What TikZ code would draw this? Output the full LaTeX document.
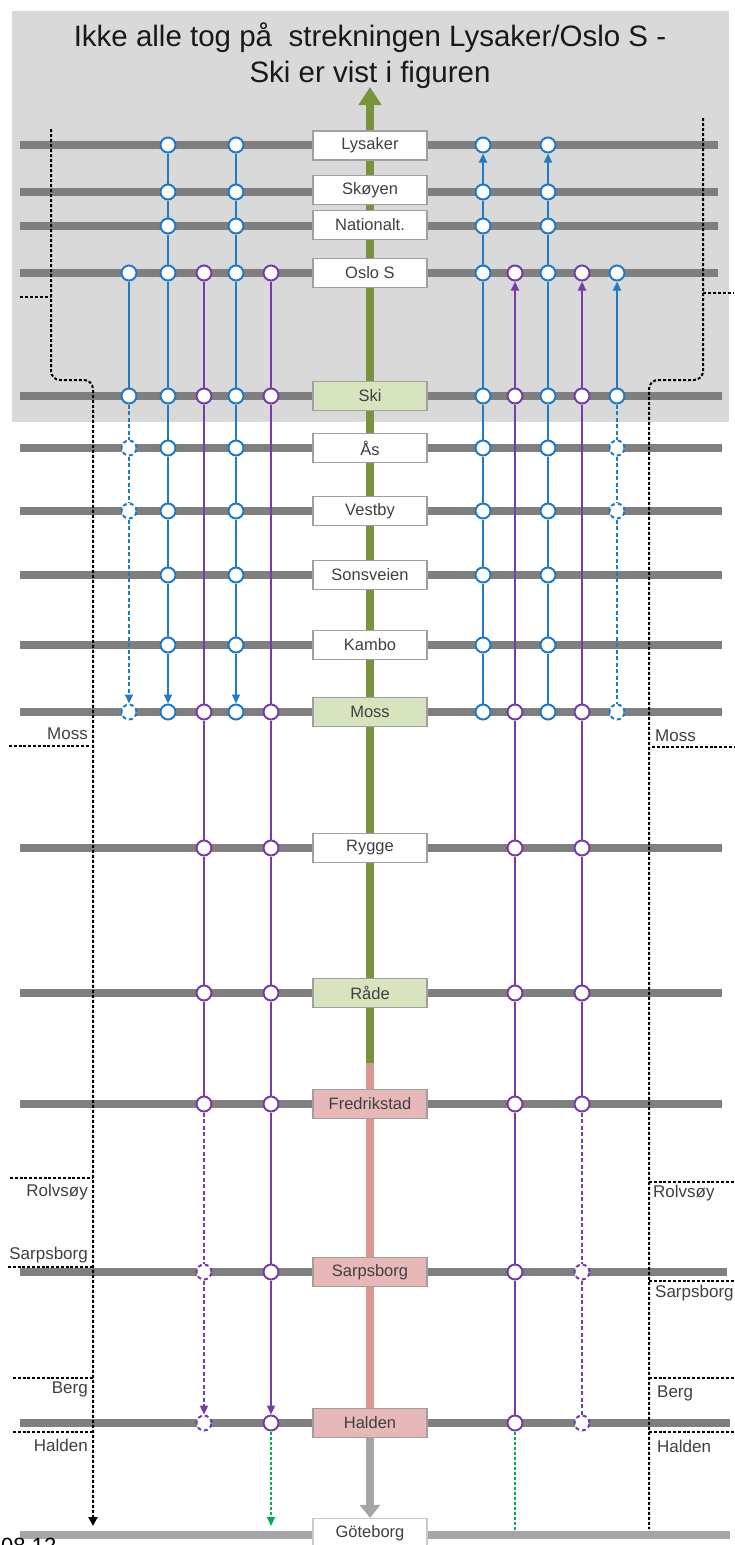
\documentclass[tikz,border=0pt]{standalone}
\usepackage{fontspec}
\setmainfont{Liberation Sans}
\usetikzlibrary{arrows.meta}
\definecolor{bgray}{HTML}{D9D9D9}
\definecolor{track}{HTML}{7F7F7F}
\definecolor{ltrack}{HTML}{A6A6A6}
\definecolor{bl}{RGB}{34,122,196}
\definecolor{pu}{RGB}{118,60,170}
\definecolor{gline}{HTML}{77933C}
\definecolor{pline}{RGB}{222,150,145}
\definecolor{gbox}{HTML}{D7E4BD}
\definecolor{pbox}{HTML}{E6B9B8}
\definecolor{gdot}{HTML}{00B050}
\definecolor{txt}{HTML}{404040}
\definecolor{boxb}{HTML}{A0A0A0}
\pgfdeclarelayer{back}
\pgfdeclarelayer{mid}
\pgfdeclarelayer{svc}
\pgfsetlayers{back,mid,svc,main}
\begin{document}
\begin{tikzpicture}[x=1pt,y=-1pt,
  stn/.style={draw=boxb, line width=1.2pt, fill=white, minimum width=114pt, minimum height=29pt, inner sep=0pt, font=\fontsize{16.5}{18}\selectfont, text=txt},
  stng/.style={stn, fill=gbox},
  stnp/.style={stn, fill=pbox},
  side/.style={font=\fontsize{17}{19}\selectfont, text=txt, inner sep=0pt},
  trk/.style={draw=track, line width=8.5pt},
  bdot/.style={draw=black, line width=2pt, dash pattern=on 3pt off 2pt},
  sdot/.style={draw=black, line width=1.6pt, dash pattern=on 3pt off 1.8pt},
  bstop/.style={circle, draw=bl, fill=white, line width=2pt, minimum size=15pt, inner sep=0pt},
  bdstop/.style={bstop, dash pattern=on 4pt off 3pt},
  pstop/.style={circle, draw=pu, fill=white, line width=2pt, minimum size=15pt, inner sep=0pt},
  pdstop/.style={pstop, dash pattern=on 4pt off 3pt},
  bline/.style={draw=bl, line width=2.2pt},
  pline/.style={draw=pu, line width=2.2pt},
  dsh/.style={dash pattern=on 4pt off 2.5pt},
  arr/.style={-{Triangle[length=9pt,width=8pt]}},
  gdotted/.style={draw=gdot, line width=2pt, dash pattern=on 3pt off 2pt},
  ttl/.style={font=\fontsize{29.5}{34}\selectfont, anchor=base, text=black!90, inner sep=0pt}
]
\useasboundingbox (0,0) rectangle (734,1545);
% reference coordinates
\foreach \n/\v in {ly/145,sk/192,na/226,os/273,ski/396,as/448,ve/511,so/575,ka/645,mo/712,ry/848,ra/993,fr/1104,sa/1272,ha/1423,go/1535}
  \coordinate (Y-\n) at (0,\v);
\foreach \n/\v in {A/129,B/168,C/204,D/236,E/271,F/483,G/515,H/548,I/582,J/617}
  \coordinate (X-\n) at (\v,0);

% station boxes (painted on the middle layer)
\begin{pgfonlayer}{mid}
\node[stn]  (L-ly) at (370,145.5) {Lysaker};
\node[stn]  (L-sk) at (370,190) {Skøyen};
\node[stn]  (L-na) at (370,225) {Nationalt.};
\node[stn]  (L-os) at (370,273) {Oslo S};
\node[stng] (L-ski) at (370,396) {Ski};
\node[stn]  (L-as) at (370,448) {Ås};
\node[stn]  (L-ve) at (370,511) {Vestby};
\node[stn]  (L-so) at (370,575) {Sonsveien};
\node[stn]  (L-ka) at (370,645) {Kambo};
\node[stng] (L-mo) at (370,712) {Moss};
\node[stn]  (L-ry) at (370,848) {Rygge};
\node[stng] (L-ra) at (370,993) {Råde};
\node[stnp] (L-fr) at (370,1104) {Fredrikstad};
\node[stnp] (L-sa) at (370,1272) {Sarpsborg};
\node[stnp] (L-ha) at (370,1423) {Halden};
\node[stn, draw=ltrack!60] (L-go) at (370,1533) {Göteborg};
\end{pgfonlayer}

\begin{pgfonlayer}{back}
\fill[bgray] (12,11) rectangle (729,422);
% tracks
\foreach \v/\r in {145/718,192/718,226/718,273/718,396/722,448/722,511/722,575/722,645/722,712/722,848/722,993/722,1104/722,1272/727,1423/730}
  \draw[trk] (20,\v) -- (\r,\v);
\draw[draw=ltrack, line width=8.5pt] (20,1535) -- (730,1535);
% centre line
\coordinate (gtop) at (370,87);
\coordinate (gsplit) at (370,1063);
\draw[draw=gline, line width=8pt, -{Triangle[length=18pt,width=22pt]}] (gsplit) -- (gtop);
\draw[draw=pline, line width=8pt] (L-ha) -- (gsplit);
\draw[draw=ltrack, line width=8pt, -{Triangle[length=13pt,width=20pt]}] (L-ha) -- (L-go);
% black dotted lines
\coordinate (LD-top) at (51,129);
\coordinate (LD-end) at (93,1526);
\draw[bdot, rounded corners=9pt, -{Triangle[length=9pt,width=9pt]}] (LD-top) -- (51,380) -- (93,380) -- (LD-end);
\draw[bdot] (20,297) -- (51,297);
\coordinate (RD-top) at (703,118);
\coordinate (RD-end) at (649,1529);
\draw[bdot, rounded corners=9pt] (RD-top) -- (703,380) -- (649,380) -- (RD-end);
\draw[bdot] (703,293) -- (734,293);
% side labels
\node[side, anchor=east] (sl-mo) at (88,734) {Moss};
\draw[sdot] (9,746) -- (89,746);
\node[side, anchor=east] (sl-ro) at (88,1192) {Rolvsøy};
\draw[sdot] (10,1178) -- (92,1178);
\node[side, anchor=east] (sl-sa) at (88,1255) {Sarpsborg};
\draw[sdot] (8,1267) -- (92,1267);
\node[side, anchor=east] (sl-be) at (88,1389) {Berg};
\draw[sdot] (13,1378) -- (93,1378);
\node[side, anchor=east] (sl-ha) at (88,1445) {Halden};
\draw[sdot] (13,1432) -- (93,1432);
\node[side, anchor=west] (sr-mo) at (655,736) {Moss};
\draw[sdot] (652,747) -- (734,747);
\node[side, anchor=west] (sr-ro) at (653,1193) {Rolvsøy};
\draw[sdot] (649,1182) -- (734,1182);
\node[side, anchor=west] (sr-sa) at (655,1293) {Sarpsborg};
\draw[sdot] (649,1281) -- (734,1281);
\node[side, anchor=west] (sr-be) at (657,1393) {Berg};
\draw[sdot] (649,1378) -- (734,1378);
\node[side, anchor=west] (sr-ha) at (657,1446) {Halden};
\draw[sdot] (649,1432) -- (734,1432);
\end{pgfonlayer}

% title
\node[ttl] (title1) at (370,46) {Ikke alle tog på~ strekningen Lysaker/Oslo S -};
\node[ttl] (title2) at (370,82) {Ski er vist i figuren};
\node[font=\fontsize{22}{26}\selectfont, anchor=north west, inner sep=0pt] (date) at (1,1538) {08.12};

% ---- stops ----
% A
\node[bstop] (A-os) at (X-A |- Y-os) {};
\node[bstop] (A-ski) at (X-A |- Y-ski) {};
\foreach \s in {as,ve,mo} \node[bdstop] (A-\s) at (X-A |- Y-\s) {};
% B, D, F, H
\foreach \c in {B,D,F,H}
  \foreach \s in {ly,sk,na,os,ski,as,ve,so,ka,mo}
    \node[bstop] (\c-\s) at (X-\c |- Y-\s) {};
% C, I
\foreach \c in {C,I}{
  \foreach \s in {os,ski,mo,ry,ra,fr}
    \node[pstop] (\c-\s) at (X-\c |- Y-\s) {};
  \foreach \s in {sa,ha}
    \node[pdstop] (\c-\s) at (X-\c |- Y-\s) {};
}
% E, G
\foreach \c in {E,G}
  \foreach \s in {os,ski,mo,ry,ra,fr,sa,ha}
    \node[pstop] (\c-\s) at (X-\c |- Y-\s) {};
% J
\node[bstop] (J-os) at (X-J |- Y-os) {};
\node[bstop] (J-ski) at (X-J |- Y-ski) {};
\foreach \s in {as,ve,mo} \node[bdstop] (J-\s) at (X-J |- Y-\s) {};
\coordinate (E-end) at (271,1526);
\coordinate (G-end) at (515,1530);

% ---- service lines ----
\begin{pgfonlayer}{svc}
% A
\draw[bline] (A-os) -- (A-ski);
\draw[bline,dsh] (A-ski) -- (A-as);
\draw[bline,dsh] (A-as) -- (A-ve);
\draw[bline,dsh,arr] (A-ve) -- (A-mo);
% B, D southbound
\foreach \c in {B,D}{
  \foreach \a/\b in {ly/sk,sk/na,na/os,os/ski,ski/as,as/ve,ve/so,so/ka}
    \draw[bline] (\c-\a) -- (\c-\b);
  \draw[bline,arr] (\c-ka) -- (\c-mo);
}
% F, H northbound
\foreach \c in {F,H}{
  \foreach \a/\b in {mo/ka,ka/so,so/ve,ve/as,as/ski,ski/os,os/na,na/sk}
    \draw[bline] (\c-\a) -- (\c-\b);
  \draw[bline,arr] (\c-sk) -- (\c-ly);
}
% C
\foreach \a/\b in {os/ski,ski/mo,mo/ry,ry/ra,ra/fr}
  \draw[pline] (C-\a) -- (C-\b);
\draw[pline,dsh] (C-fr) -- (C-sa);
\draw[pline,dsh,arr] (C-sa) -- (C-ha);
% E
\foreach \a/\b in {os/ski,ski/mo,mo/ry,ry/ra,ra/fr,fr/sa}
  \draw[pline] (E-\a) -- (E-\b);
\draw[pline,arr] (E-sa) -- (E-ha);
\draw[gdotted,-{Triangle[length=9pt,width=8pt]}] (E-ha) -- (E-end);
% G
\foreach \a/\b in {ha/sa,sa/fr,fr/ra,ra/ry,ry/mo,mo/ski}
  \draw[pline] (G-\a) -- (G-\b);
\draw[pline,arr] (G-ski) -- (G-os);
\draw[gdotted] (G-ha) -- (G-end);
% I
\foreach \a/\b in {fr/ra,ra/ry,ry/mo,mo/ski}
  \draw[pline] (I-\a) -- (I-\b);
\draw[pline,arr] (I-ski) -- (I-os);
\draw[pline,dsh] (I-fr) -- (I-sa);
\draw[pline,dsh] (I-sa) -- (I-ha);
% J
\draw[bline,arr] (J-ski) -- (J-os);
\draw[bline,dsh] (J-ski) -- (J-as);
\draw[bline,dsh] (J-as) -- (J-ve);
\draw[bline,dsh] (J-ve) -- (J-mo);
\end{pgfonlayer}
\end{tikzpicture}
\end{document}
